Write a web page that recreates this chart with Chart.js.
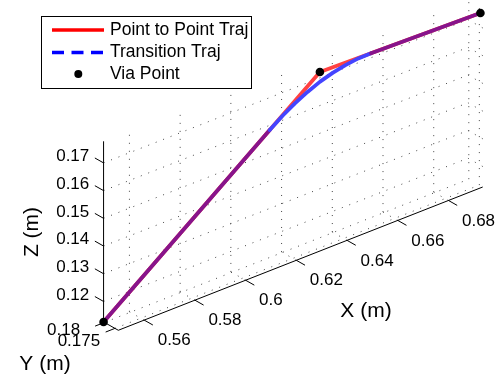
<!DOCTYPE html>
<html>
<head>
<meta charset="utf-8">
<script src="https://cdn.jsdelivr.net/npm/chart.js@4.4.0/dist/chart.umd.min.js"></script>
<style>
  html, body { margin: 0; padding: 0; background: #fff; }
  #wrap { position: relative; width: 502px; height: 381px; }
</style>
</head>
<body>
<div id="wrap"><canvas id="chart"></canvas></div>
<script>
// Via points: start, via, end (metres)
const viaX = [0.5498, 0.6327, 0.6926];
const viaY = [0.1804, 0.1775, 0.1734];
const viaZ = [0.1126, 0.1742, 0.1757];

// Transition trajectory (blends around the via point)
const transX = [0.5498, 0.6135, 0.6183, 0.6231, 0.6279, 0.6327, 0.6374, 0.6422, 0.6470, 0.6518, 0.6926];
const transY = [0.1804, 0.1782, 0.1780, 0.1778, 0.1776, 0.1774, 0.1771, 0.1768, 0.1765, 0.1762, 0.1734];
const transZ = [0.1126, 0.1599, 0.1633, 0.1662, 0.1687, 0.1708, 0.1724, 0.1736, 0.1744, 0.1747, 0.1757];

// Axes
const xLimits = [0.5498, 0.6935];
const yLimits = [0.1734, 0.1804];
const zLimits = [0.1126, 0.1778];
const xTicks = [0.56, 0.58, 0.6, 0.62, 0.64, 0.66, 0.68];
const xTickLabels = ['0.56', '0.58', '0.6', '0.62', '0.64', '0.66', '0.68'];
const yTicks = [0.175, 0.18];
const yTickLabels = ['0.175', '0.18'];
const zTicks = [0.12, 0.13, 0.14, 0.15, 0.16, 0.17];
const zTickLabels = ['0.12', '0.13', '0.14', '0.15', '0.16', '0.17'];

// fixed camera: screen units per metre along each axis, corner (xmin, ymax, zmin) at ORIGIN
const ORIGIN = [101, 325];
const EX = [2580, -1020];
const EY = [-2143, -1214];
const EZ = [0, -2835];

function proj(x, y, z) {
    const dx = x - xLimits[0], dy = y - yLimits[1], dz = z - zLimits[0];
    return {
        x: ORIGIN[0] + dx * EX[0] + dy * EY[0] + dz * EZ[0],
        y: ORIGIN[1] + dx * EX[1] + dy * EY[1] + dz * EZ[1]
    };
}

function unit(v) {
    const l = Math.hypot(v[0], v[1]);
    return [v[0] / l, v[1] / l];
}

const FONT = '"Liberation Sans", Arial, Helvetica, sans-serif';
const RED = '#ff4242';
const BLUE = '#4444ff';
const PURPLE = '#87148c';

const redData = viaX.map((x, i) => proj(x, viaY[i], viaZ[i]));
const blueData = transX.map((x, i) => proj(x, transY[i], transZ[i]));
const lastSeg = blueData.length - 2;

const axesPlugin = {
    id: 'axes3d',
    beforeDatasetsDraw(chart) {
        const ctx = chart.ctx;
        const sx = chart.scales.x, sy = chart.scales.y;
        const px = (x, y, z) => {
            const p = proj(x, y, z);
            return [sx.getPixelForValue(p.x), sy.getPixelForValue(p.y)];
        };
        const seg = (a, b) => {
            ctx.beginPath();
            ctx.moveTo(a[0], a[1]);
            ctx.lineTo(b[0], b[1]);
            ctx.stroke();
        };
        const [x0, x1] = xLimits, [y0, y1] = yLimits, [z0, z1] = zLimits;

        ctx.save();
        // dotted grid on the three back planes
        ctx.strokeStyle = '#444';
        ctx.lineWidth = 1;
        ctx.setLineDash([1, 7]);
        xTicks.forEach(x => {
            seg(px(x, y1, z0), px(x, y1, z1));   // back wall
            seg(px(x, y0, z0), px(x, y1, z0));   // floor
        });
        zTicks.forEach(z => {
            seg(px(x0, y1, z), px(x1, y1, z));   // back wall
            seg(px(x1, y0, z), px(x1, y1, z));   // side wall
        });
        yTicks.forEach(y => {
            seg(px(x1, y, z0), px(x1, y, z1));   // side wall
            seg(px(x0, y, z0), px(x1, y, z0));   // floor
        });

        // axis lines
        ctx.setLineDash([]);
        ctx.strokeStyle = '#000';
        seg(px(x0, y1, z0), px(x0, y1, z1));
        seg(px(x0, y1, z0), px(x0, y0, z0));
        seg(px(x0, y0, z0), px(x1, y0, z0));

        // ticks + labels
        const TL = 10;
        const dX = unit([-EY[0], -EY[1]]);
        const dZ = unit([EY[0], EY[1]]);
        const dY = unit([-EX[0], -EX[1]]);
        ctx.fillStyle = '#000';
        ctx.font = '17px ' + FONT;
        ctx.textBaseline = 'middle';

        ctx.textAlign = 'left';
        xTicks.forEach((x, i) => {
            const p = px(x, y0, z0);
            seg(p, [p[0] + dX[0] * TL, p[1] + dX[1] * TL]);
            ctx.fillText(xTickLabels[i], p[0] + 13.5, p[1] + 20.5);
        });
        ctx.textAlign = 'right';
        zTicks.forEach((z, i) => {
            const p = px(x0, y1, z);
            seg(p, [p[0] + dZ[0] * TL, p[1] + dZ[1] * TL]);
            ctx.fillText(zTickLabels[i], p[0] - 14.3, p[1] - 6.3);
        });
        // the two Y labels sit close together, spread them a little
        const yLabelDrop = [12.5, 8];
        ctx.textAlign = 'left';
        yTicks.forEach((y, i) => {
            const p = px(x0, y, z0);
            seg(p, [p[0] + dY[0] * TL, p[1] + dY[1] * TL]);
            ctx.fillText(yTickLabels[i], p[0] - 57.3, p[1] + yLabelDrop[i]);
        });

        // axis titles
        ctx.font = '21px ' + FONT;
        ctx.textAlign = 'center';
        ctx.fillText('X (m)', 366, 311);
        ctx.fillText('Y (m)', 45, 364);
        ctx.save();
        ctx.translate(32, 232);
        ctx.rotate(-Math.PI / 2);
        ctx.fillText('Z (m)', 0, 0);
        ctx.restore();
        ctx.restore();
    },
    afterDatasetsDraw(chart) {
        // legend box in the upper left
        const ctx = chart.ctx;
        ctx.save();
        ctx.fillStyle = '#fff';
        ctx.strokeStyle = '#000';
        ctx.lineWidth = 1;
        ctx.fillRect(41.5, 16.5, 210, 72);
        ctx.strokeRect(41.5, 16.5, 210, 72);

        ctx.lineWidth = 3.3;
        ctx.strokeStyle = '#ff0000';
        ctx.beginPath(); ctx.moveTo(52, 30); ctx.lineTo(104, 30); ctx.stroke();
        ctx.strokeStyle = '#0000ff';
        ctx.setLineDash([12, 7.5]);
        ctx.beginPath(); ctx.moveTo(52, 52.5); ctx.lineTo(104, 52.5); ctx.stroke();
        ctx.setLineDash([]);
        ctx.fillStyle = '#000';
        ctx.beginPath(); ctx.arc(78.3, 74, 4, 0, Math.PI * 2); ctx.fill();

        ctx.font = '17.5px ' + FONT;
        ctx.textAlign = 'left';
        ctx.textBaseline = 'middle';
        ctx.fillText('Point to Point Traj', 110, 30);
        ctx.fillText('Transition Traj', 110, 52.5);
        ctx.fillText('Via Point', 110, 74);
        ctx.restore();
    }
};

new Chart(document.getElementById('chart'), {
    type: 'scatter',
    data: {
        datasets: [
            {
                label: 'Via Point',
                data: redData,
                pointRadius: 4.3,
                pointBackgroundColor: '#000',
                pointBorderWidth: 0,
                showLine: false,
                order: 1
            },
            {
                label: 'Transition Traj',
                data: blueData,
                showLine: true,
                borderColor: BLUE,
                borderWidth: 3.8,
                borderCapStyle: 'round',
                borderJoinStyle: 'round',
                pointRadius: 0,
                tension: 0,
                segment: {
                    // where it runs on top of the red path it shows purple
                    borderColor: c => (c.p0DataIndex === 0 || c.p0DataIndex === lastSeg) ? PURPLE : BLUE
                },
                order: 2
            },
            {
                label: 'Point to Point Traj',
                data: redData,
                showLine: true,
                borderColor: RED,
                borderWidth: 3.8,
                borderCapStyle: 'round',
                borderJoinStyle: 'round',
                pointRadius: 0,
                order: 3
            }
        ]
    },
    options: {
        responsive: true,
        maintainAspectRatio: false,
        animation: false,
        events: [],
        layout: { padding: 0 },
        plugins: { legend: { display: false }, tooltip: { enabled: false } },
        scales: {
            x: { type: 'linear', min: 0, max: 502, display: false },
            y: { type: 'linear', min: 0, max: 381, reverse: true, display: false }
        }
    },
    plugins: [axesPlugin]
});
</script>
</body>
</html>
